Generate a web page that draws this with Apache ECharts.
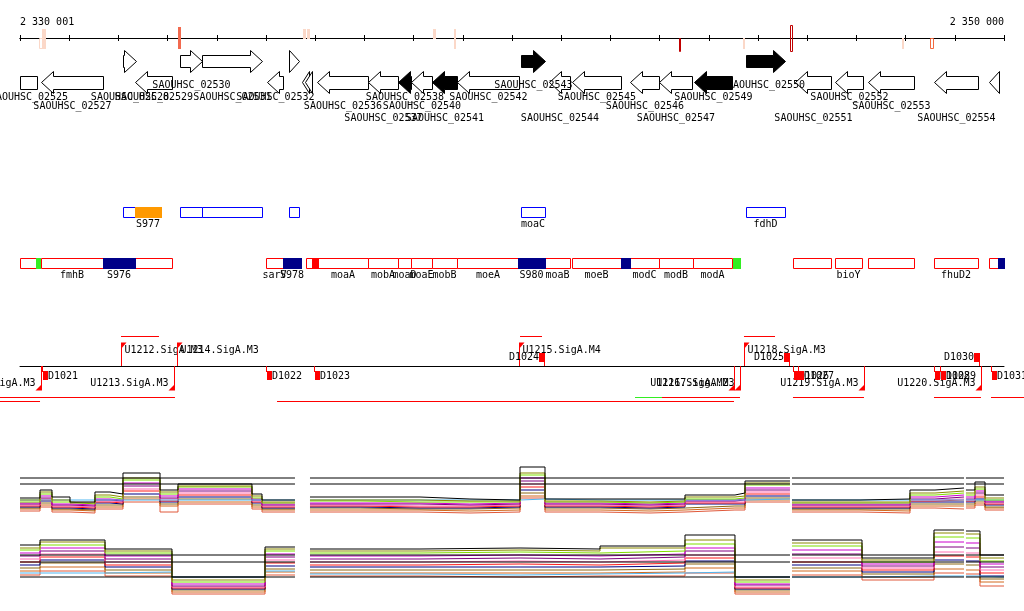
<!DOCTYPE html>
<html><head><meta charset="utf-8">
<script src="https://cdn.jsdelivr.net/npm/echarts@6/dist/echarts.min.js"></script>
<style>html,body{margin:0;padding:0;background:#fff}#c{width:1024px;height:611px}</style>
</head><body><div id="c"></div>
<script>
// ---------------- axis ----------------
const AX_MIN = 2330000, AX_MAX = 2350000, TICK = 1000;
const rulerFirstLabel = 2330001, rulerLastLabel = 2350000;

// ---------------- ruler marks: [start, end, kind] ----------------
const rulerMarks = [
  [2330396, 2330437, 'A'], [2330457, 2330498, 'B'], [2333211, 2333252, 'C'],
  [2335752, 2335793, 'D'], [2335833, 2335874, 'D'], [2338394, 2338425, 'D'],
  [2338811, 2338841, 'B'], [2343388, 2343420, 'E'], [2344695, 2344725, 'H'],
  [2345650, 2345701, 'F'], [2347917, 2347947, 'H'], [2348496, 2348557, 'G']
];

// ---------------- genes ----------------
const geneName = ['SAOUHSC_02525','SAOUHSC_02527','SAOUHSC_02528','SAOUHSC_02529','SAOUHSC_02530','SAOUHSC_02531','SAOUHSC_02532','SAOUHSC_02533','SAOUHSC_02534','SAOUHSC_02535','SAOUHSC_02536','SAOUHSC_02537','SAOUHSC_02538','SAOUHSC_02540','SAOUHSC_02541','SAOUHSC_02542','SAOUHSC_02543','SAOUHSC_02544','SAOUHSC_02545','SAOUHSC_02546','SAOUHSC_02547','SAOUHSC_02549','SAOUHSC_02550','SAOUHSC_02551','SAOUHSC_02552','SAOUHSC_02553','SAOUHSC_02554','SAOUHSC_02555'];
const geneStart = [2329600,2330427,2332093,2332337,2333252,2333699,2335020,2335467,2335732,2335793,2336037,2337073,2337683,2337947,2338374,2338882,2340183,2340752,2341219,2342398,2342988,2343699,2344756,2345752,2346565,2347236,2348577,2349695];
const geneEnd   = [2330346,2331687,2332358,2333089,2333699,2334919,2335345,2335671,2335874,2335935,2337073,2337683,2337947,2338374,2338882,2340142,2340671,2341179,2342215,2342988,2343658,2344471,2345549,2346484,2347134,2348171,2349471,2349898];
const geneStrand = ['-','-','+','-','+','+','-','+','-','-','-','-','-','-','-','-','+','-','-','-','-','-','+','-','-','-','-','-'];
const geneHighlight = [0,0,0,0,0,0,0,0,0,0,0,0,1,0,1,0,1,0,0,0,0,1,1,0,0,0,0,0];
const geneLabelLane = [1,2,1,1,0,1,1,-1,-1,-1,2,3,1,2,3,1,0,3,1,2,3,1,0,3,1,2,3,-1];

// ---------------- feature tracks: [start, end, type, label] ----------------
const featUpper = [
  [2332093,2332337,'b',''], [2332337,2332866,'o','S977'], [2333252,2333699,'b',''],
  [2333699,2334919,'b',''], [2335467,2335671,'b',''], [2340183,2340671,'b','moaC'],
  [2344756,2345549,'b','fdhD']
];
const featLower = [
  [2330000,2330325,'r',''], [2330325,2330407,'g',''], [2330427,2331687,'r','fmhB'],
  [2331687,2332337,'n','S976'], [2332337,2333089,'r',''], [2335000,2335345,'r','sarV'],
  [2335345,2335711,'n','S978'], [2335813,2335935,'r',''], [2335935,2336057,'f',''],
  [2336057,2337073,'r','moaA'], [2337073,2337683,'r','mobA'], [2337683,2337947,'r','moaD'],
  [2337947,2338374,'r','moaE'], [2338374,2338882,'r','mobB'], [2338882,2340142,'r','moeA'],
  [2340122,2340671,'n','S980'], [2340671,2341179,'r','moaB'], [2341219,2342215,'r','moeB'],
  [2342215,2342398,'n',''], [2342398,2342988,'r','modC'], [2342988,2343679,'r','modB'],
  [2343679,2344471,'r','modA'], [2344492,2344634,'g',''], [2345711,2346484,'r',''],
  [2346565,2347114,'r','bioY'], [2347236,2348171,'r',''], [2348577,2349471,'r','fhuD2'],
  [2349695,2349878,'r',''], [2349878,2350000,'n','']
];

// ---------------- promoters / terminators ----------------
const promotersPlus = [[2332053,'U1212.SigA.M3'],[2333191,'U1214.SigA.M3'],[2340142,'U1215.SigA.M4'],[2344715,'U1218.SigA.M3']];
const promotersMinus = [[2330427,'U1211.SigA.M3'],[2333130,'U1213.SigA.M3'],[2344512,'U1216.SigA.M2'],[2344634,'U1217.SigA.M3'],[2347154,'U1219.SigA.M3'],[2349532,'U1220.SigA.M3']];
const termMinus = [[2330447,'D1021'],[2335000,'D1022'],[2335976,'D1023'],[2345711,'D1026'],[2345813,'D1027'],[2348577,'D1028'],[2348699,'D1029'],[2349736,'D1031']];
const termPlus = [[2340549,'D1024'],[2345528,'D1025'],[2349390,'D1030']];
// transcripts: [start, end, lane, kind]
const transcripts = [
  [2332053,2332825,'up','r'], [2340163,2340610,'up','r'], [2344715,2345346,'up','r'],
  [2329500,2333150,'dn1','r'], [2342500,2343049,'dn1','g'], [2343049,2344634,'dn1','r'],
  [2345711,2347154,'dn1','r'], [2348577,2349532,'dn1','r'], [2349736,2350500,'dn1','r'],
  [2329500,2330407,'dn2','r'], [2335224,2344512,'dn2','r']
];

// ---------------- expression panel 1 ----------------
const p1Edges = [2330000,2330407,2330650,2331016,2331524,2331829,2332093,2332846,2333211,2334715,2334919,2335589,2335894,2336911,2338130,2339146,2340163,2340671,2341789,2342805,2343516,2344532,2344736,2345650,2345691,2347073,2348089,2348597,2349187,2349227,2349410,2349614,2350000];
const p1Black  = [4.5,6.5,4.75,3.5,6,5.5,10.75,6.5,8,5.5,4,null,4.75,4.75,4.25,4,12.25,4.25,4.25,4.25,5.25,5.75,8.75,null,4,4.25,6.5,7,null,6.5,8.5,5.25];
const p1Olive  = [4,6,4,3.25,5.25,4.75,9.5,6,7.5,5,3.5,null,4,4,3.75,3.75,10.75,3.75,3.5,3.75,4.75,5,8.25,null,3.5,3.5,5.75,6.25,null,5.75,7.25,4.5];
const p1Green  = [3.5,5.5,3.5,3,4.75,4.25,9,5.5,7.25,4.5,3.25,null,3.75,3.5,3.5,3.5,10.25,3.5,3.25,3.5,4.25,4.5,7.75,null,3.25,3.25,5.25,5.75,null,5.25,6.75,4];
const p1Magenta= [3.25,5,3,2.75,4.25,4,8.25,5,6.75,4.25,3,null,3.25,3.25,3,3.25,9.5,3.25,3,3.25,4,4.25,7,null,3,3,4.75,5.25,null,4.75,6.25,3.75];
const p1Purple = [3,4.5,2.75,2.5,4,3.75,7.5,4.5,6.25,4,2.75,null,3,3,2.75,3,8.75,3,2.75,3,3.75,4,6.5,null,2.75,2.75,4.25,4.75,null,4.25,5.75,3.5];
const p1Pink   = [2.75,4.25,2.5,2.25,3.75,3.5,6.75,4.25,5.75,3.75,2.5,null,2.75,2.5,2.5,2.75,8,2.75,2.5,2.75,3.5,3.5,6,null,2.5,2.5,4,4.25,null,4,5.25,3.25];
const p1Red    = [2.5,4,2.25,2,3.5,3.25,6.25,3.75,5.25,3.5,2.25,null,2.5,2.25,2.25,2.5,7.25,2.5,2.25,2.5,3.25,3.25,5.5,null,2.25,2.25,3.75,4,null,3.75,4.75,3];
const p1Navy   = [2.25,3.75,2,1.75,3.25,3,5.5,3.5,4.75,3.25,2,null,2.25,2,2,2.25,6.5,2.25,2,2.25,3,3,5,null,2,2,3.5,3.5,null,3.5,4.25,2.75];
const p1Brown  = [2,3.25,1.75,1.5,2.75,2.75,4.75,3,4.25,2.75,1.75,null,2,1.75,1.75,2,5.75,2,1.75,2,2.5,2.5,4.5,null,1.75,1.75,3,3,null,3,3.75,2.25];
const p1Blue   = [4,4,4,4,4,4,4,4,4,4,4,null,4,4,4,4,4.25,4,4,4,4,4,4.25,null,4,4,4,4,null,4,4,4];
const p1Orange = [1.75,2.75,1.5,1.25,2.25,2.25,4.25,2.5,3.5,2.25,1.5,null,1.5,1.5,1.25,1.5,5,1.5,1.25,1.5,2,2,4,null,1.5,1.25,2.5,2.5,null,2.5,3.25,2];
const p1Salmon = [1.25,2.25,1,0.75,1.75,1.75,3.5,1,3,1.75,1,null,1,1,0.75,1,4.5,1,0.75,1,1.5,1.5,3.5,null,1,0.75,2,1.75,null,2,2.75,1.5];
const p1Thresholds = [9.5, 8];

// ---------------- expression panel 2 ----------------
const p2Edges = [2330000,2330407,2331728,2333089,2334980,2335589,2335894,2338130,2340163,2341789,2343516,2344532,2345650,2345691,2347114,2348577,2349187,2349227,2349512,2350000];
const p2Black  = [13.75,15,12.75,5.75,13.25,null,12.75,13,12.75,13.5,16.25,5.75,null,15,10.5,17.5,null,17.25,11.25];
const p2Olive  = [13,14.5,12.25,5,12.75,null,12.25,12.5,12.25,13,15,5,null,14.25,10,16.75,null,16.5,10.5];
const p2Green  = [12.5,13.75,11.75,4.5,12.25,null,11.75,12,11.75,12.25,14,4.5,null,13.5,9.5,15.75,null,15.5,9.75];
const p2Magenta= [11.75,13,11,4,11.5,null,11,11.25,11,11.5,13,4,null,12.5,9,14.5,null,14.25,9];
const p2Purple = [11,12.25,10.25,3.5,10.75,null,10.25,10.5,10.25,10.75,12.25,3.75,null,11.5,8.5,13.25,null,13,8.25];
const p2Pink   = [10.25,11.5,9.5,3.25,10,null,9.5,9.75,9.5,10,11.25,3.25,null,10.5,8,12,null,11.75,7.5];
const p2Red    = [9.5,10.75,8.75,3,9.25,null,8.75,9,8.75,9.25,10.5,3,null,9.5,7.5,11,null,10.75,6.75];
const p2Navy   = [8.75,10,8.25,2.75,8.5,null,8.25,8.25,8.25,8.5,9.75,2.75,null,8.75,7,10,null,9.75,6];
const p2Brown  = [8,9.25,7.5,2.5,7.75,null,7.5,7.5,7.5,7.75,9,2.5,null,8,6.5,9,null,8.75,5.25];
const p2Blue   = [6.75,6.75,7,5.75,7.25,null,6.5,6.25,6.5,6.75,7,5.75,null,5.75,6,6,null,6,5.75];
const p2Orange = [7.25,8.25,6.75,2,7,null,6.75,6.75,6.75,7,8,2,null,7.25,5.75,7.75,null,7.5,4.5];
const p2Salmon = [6.25,7.25,6,1.5,6.25,null,6,5.75,6,6,6.75,1.5,null,6.25,5,6.75,null,6.5,3.5];
const p2Thresholds = [11.25, 9.5, 5.75];

// ---------------- layout & styles ----------------
const FONT = '10px "DejaVu Sans Mono"';
const LY = {
  fwd: {ht: 50.5, st: 55.5, sb: 67.5, hb: 72.5},
  rev: {ht: 71.5, st: 76.5, sb: 89.5, hb: 93.5},
  head: 12,
  labelY: [85, 97, 106, 118],
  featUpper: {top: 207.5, h: 10, label: 224},
  featLower: {top: 258.5, h: 10, label: 275},
  promoY: 366,
  laneY: {up: 336.5, dn1: 397.5, dn2: 401.5}
};
const PEACH = '#fbd8c8';
const markStyle = {
  A: {y0: 38, y1: 49, fill: null, stroke: PEACH},
  B: {y0: 29, y1: 49, fill: PEACH, stroke: null},
  C: {y0: 27, y1: 49, fill: '#f26a4f', stroke: null},
  D: {y0: 29, y1: 39, fill: PEACH, stroke: null},
  E: {y0: 38, y1: 52, fill: null, stroke: '#c00000'},
  F: {y0: 25, y1: 52, fill: null, stroke: '#c00000'},
  G: {y0: 38, y1: 49, fill: null, stroke: '#f26a40'},
  H: {y0: 38, y1: 49, fill: PEACH, stroke: null}
};
const featStyle = {
  b: {fill: '#fff', stroke: '#0000ff', z: 1},
  r: {fill: '#fff', stroke: '#ff0000', z: 1},
  o: {fill: '#ff9900', stroke: null, z: 2},
  n: {fill: '#000088', stroke: null, z: 2},
  g: {fill: '#33ee22', stroke: null, z: 2},
  f: {fill: '#ff0000', stroke: null, z: 2}
};
const RED = '#ff0000';
const laneColor = {r: '#ff0000', g: '#33ee22'};

const snap = v => Math.round(v) + 0.5;
function xc(api, v) { return api.coord([v, 0])[0]; }

// ---------- renderers ----------
function renderGene(params, api) {
  const i = params.dataIndex, cs = params.coordSys;
  let x0 = xc(api, api.value(0)), x1 = xc(api, api.value(1));
  let cut = false;
  if (x0 < cs.x) { x0 = cs.x; cut = true; }
  x0 = snap(x0); x1 = snap(x1);
  const fwd = geneStrand[i] === '+';
  const r = fwd ? LY.fwd : LY.rev;
  const mid = (r.ht + r.hb) / 2;
  const len = x1 - x0;
  let head = Math.min(LY.head, len);
  if (!fwd && cut) head = 0;
  let pts;
  if (fwd) {
    const hx = x1 - head;
    pts = (len - head < 1) ? [[x0, r.ht], [x1, mid], [x0, r.hb]]
      : [[x0, r.st], [hx, r.st], [hx, r.ht], [x1, mid], [hx, r.hb], [hx, r.sb], [x0, r.sb]];
  } else {
    const hx = x0 + head;
    if (head === 0) pts = [[x0, r.st], [x1, r.st], [x1, r.sb], [x0, r.sb]];
    else if (len - head < 1) pts = [[x1, r.ht], [x0, mid], [x1, r.hb]];
    else pts = [[x1, r.st], [hx, r.st], [hx, r.ht], [x0, mid], [hx, r.hb], [hx, r.sb], [x1, r.sb]];
  }
  const children = [{type: 'polygon', shape: {points: pts},
    style: {fill: geneHighlight[i] ? '#000' : '#fff', stroke: '#000', lineWidth: 1}}];
  const lane = geneLabelLane[i];
  if (lane >= 0) children.push({type: 'text', z2: 5, style: {text: geneName[i], x: (x0 + x1) / 2, y: LY.labelY[lane],
    fill: '#000', font: FONT, align: 'center', verticalAlign: 'middle'}});
  return {type: 'group', children};
}

function makeFeatRenderer(list, lay) {
  return function (params, api) {
    const f = list[params.dataIndex];
    const st = featStyle[f[2]];
    const x0 = Math.round(xc(api, f[0])), x1 = Math.round(xc(api, f[1]));
    const children = [];
    if (st.stroke) children.push({type: 'rect', z2: st.z, shape: {x: x0 + 0.5, y: lay.top, width: x1 - x0, height: lay.h},
      style: {fill: st.fill, stroke: st.stroke, lineWidth: 1}});
    else children.push({type: 'rect', z2: st.z, shape: {x: x0, y: lay.top - 0.5, width: x1 - x0 + 1, height: lay.h + 1},
      style: {fill: st.fill}});
    if (f[3]) children.push({type: 'text', z2: 5, style: {text: f[3], x: (x0 + x1) / 2, y: lay.label,
      fill: '#000', font: FONT, align: 'center', verticalAlign: 'middle'}});
    return {type: 'group', children};
  };
}

function renderRulerMark(params, api) {
  const m = rulerMarks[params.dataIndex];
  const s = markStyle[m[2]];
  const x0 = Math.round(xc(api, m[0])), x1 = Math.max(Math.round(xc(api, m[1])), x0 + 1);
  if (s.fill) return {type: 'rect', shape: {x: x0, y: s.y0, width: x1 - x0 + 1, height: s.y1 - s.y0}, style: {fill: s.fill}};
  return {type: 'rect', shape: {x: x0 + 0.5, y: s.y0 + 0.5, width: x1 - x0, height: s.y1 - s.y0 - 1}, style: {fill: null, stroke: s.stroke, lineWidth: 1}};
}

function renderPromPlus(params, api) {
  const p = promotersPlus[params.dataIndex];
  const x = snap(xc(api, p[0])), y = LY.promoY;
  return {type: 'group', children: [
    {type: 'line', shape: {x1: x, y1: y, x2: x, y2: y - 23}, style: {stroke: RED, lineWidth: 1}},
    {type: 'polygon', shape: {points: [[x - 0.5, y - 23.5], [x + 5, y - 23.5], [x - 0.5, y - 17]]}, style: {fill: RED}},
    {type: 'text', style: {text: p[1], x: x + 3, y: 350, fill: '#000', font: FONT, align: 'left', verticalAlign: 'middle'}}
  ]};
}
function renderPromMinus(params, api) {
  const p = promotersMinus[params.dataIndex];
  const x = snap(xc(api, p[0])), y = LY.promoY;
  return {type: 'group', children: [
    {type: 'line', shape: {x1: x, y1: y, x2: x, y2: y + 24}, style: {stroke: RED, lineWidth: 1}},
    {type: 'polygon', shape: {points: [[x + 0.5, y + 24.5], [x - 6, y + 24.5], [x + 0.5, y + 18]]}, style: {fill: RED}},
    {type: 'text', style: {text: p[1], x: x - 6, y: 383, fill: '#000', font: FONT, align: 'right', verticalAlign: 'middle'}}
  ]};
}
function renderTermMinus(params, api) {
  const p = termMinus[params.dataIndex];
  const x = Math.round(xc(api, p[0])), y = LY.promoY;
  return {type: 'group', children: [
    {type: 'line', shape: {x1: x + 0.5, y1: y, x2: x + 0.5, y2: y + 6}, style: {stroke: RED, lineWidth: 1}},
    {type: 'rect', shape: {x: x + 1, y: y + 5, width: 5, height: 9}, style: {fill: RED}},
    {type: 'text', style: {text: p[1], x: x + 6, y: 376, fill: '#000', font: FONT, align: 'left', verticalAlign: 'middle'}}
  ]};
}
function renderTermPlus(params, api) {
  const p = termPlus[params.dataIndex];
  const x = Math.round(xc(api, p[0])), y = LY.promoY;
  return {type: 'group', children: [
    {type: 'rect', shape: {x: x, y: y - 13, width: 5, height: 9}, style: {fill: RED}},
    {type: 'line', shape: {x1: x + 5.5, y1: y - 13, x2: x + 5.5, y2: y}, style: {stroke: RED, lineWidth: 1}},
    {type: 'text', style: {text: p[1], x: x, y: 357, fill: '#000', font: FONT, align: 'right', verticalAlign: 'middle'}}
  ]};
}
function renderTranscript(params, api) {
  const t = transcripts[params.dataIndex];
  const x0 = xc(api, t[0]), x1 = xc(api, t[1]);
  const y = LY.laneY[t[2]];
  return {type: 'line', shape: {x1: x0, y1: y, x2: x1, y2: y}, style: {stroke: laneColor[t[3]], lineWidth: 1}};
}

function customSeries(data, render, extra) {
  return Object.assign({type: 'custom', xAxisIndex: 0, yAxisIndex: 0, clip: false, silent: true,
    renderItem: render, data: data, encode: {x: [0, 1]}}, extra || {});
}

// ---------- expression helpers ----------
function stepData(edges, vals) {
  const d = [];
  for (let i = 0; i < vals.length; i++) {
    if (vals[i] == null) { d.push([edges[i], '-']); continue; }
    d.push([edges[i], vals[i]]); d.push([edges[i + 1], vals[i]]);
  }
  return d;
}
function lineSeries(idx, edges, vals, color, w) {
  return {type: 'line', xAxisIndex: idx, yAxisIndex: idx, data: stepData(edges, vals), showSymbol: false, symbol: 'none',
    silent: true, connectNulls: false, lineStyle: {color: color, width: w || 1}, itemStyle: {color: color}};
}
const COLORS = {salmon:'#e0583a', orange:'#d2691e', brown:'#8b6914', navy:'#000080', red:'#ff1a1a', pink:'#ff6eb4',
  purple:'#800080', magenta:'#cc00cc', blue:'#4fb6f0', green:'#7fe000', olive:'#8b8b00', black:'#000000'};
const p1Sets = [[p1Salmon,'salmon'],[p1Orange,'orange'],[p1Brown,'brown'],[p1Navy,'navy'],[p1Red,'red'],[p1Pink,'pink'],[p1Purple,'purple'],[p1Magenta,'magenta'],[p1Blue,'blue'],[p1Green,'green'],[p1Olive,'olive'],[p1Black,'black']];
const p2Sets = [[p2Salmon,'salmon'],[p2Orange,'orange'],[p2Brown,'brown'],[p2Navy,'navy'],[p2Red,'red'],[p2Pink,'pink'],[p2Purple,'purple'],[p2Magenta,'magenta'],[p2Blue,'blue'],[p2Green,'green'],[p2Olive,'olive'],[p2Black,'black']];

const series = [];
series.push(customSeries(rulerMarks.map(m => [m[0], m[1]]), renderRulerMark));
series.push(customSeries(geneStart.map((s, i) => [s, geneEnd[i]]), renderGene));
series.push(customSeries(featUpper.map(f => [f[0], f[1]]), makeFeatRenderer(featUpper, LY.featUpper)));
series.push(customSeries(featLower.map(f => [f[0], f[1]]), makeFeatRenderer(featLower, LY.featLower)));
series.push(customSeries(transcripts.map(t => [t[0], t[1]]), renderTranscript));
series.push(customSeries(promotersPlus.map(p => [p[0], p[0]]), renderPromPlus));
series.push(customSeries(promotersMinus.map(p => [p[0], p[0]]), renderPromMinus));
series.push(customSeries(termMinus.map(p => [p[0], p[0]]), renderTermMinus));
series.push(customSeries(termPlus.map(p => [p[0], p[0]]), renderTermPlus));
p1Sets.forEach(s => series.push(lineSeries(4, p1Edges, s[0], COLORS[s[1]])));
p1Thresholds.forEach(t => series.push(Object.assign(lineSeries(4, p1Edges, p1Black.map(v => v == null ? null : t), '#000'), {z: 5})));
p2Sets.forEach(s => series.push(lineSeries(5, p2Edges, s[0], COLORS[s[1]])));
p2Thresholds.forEach(t => series.push(Object.assign(lineSeries(5, p2Edges, p2Black.map(v => v == null ? null : t), '#000'), {z: 5})));

const fmtBp = v => String(v).replace(/\B(?=(\d{3})+(?!\d))/g, ' ');
const baseX = {type: 'value', min: AX_MIN, max: AX_MAX, interval: TICK, show: false};
const hiddenY = (min, max, inv) => ({type: 'value', min, max, inverse: !!inv, show: false});

const option = {
  animation: false,
  backgroundColor: '#fff',
  grid: [
    {left: 20, right: 20, top: 0, height: 611},
    {left: 20, right: 20, top: 38, height: 10},
    {left: 20, right: 20, top: 38, height: 10},
    {left: 20, right: 20, top: 366, height: 10},
    {left: 20, right: 20, top: 460, height: 56},
    {left: 20, right: 20, top: 524, height: 76}
  ],
  xAxis: [
    Object.assign({}, baseX, {gridIndex: 0}),
    {type: 'value', gridIndex: 1, min: AX_MIN, max: AX_MAX, interval: TICK, position: 'top',
      axisLine: {show: true, onZero: false, lineStyle: {color: '#000', width: 1}},
      axisTick: {show: true, inside: false, length: 3, lineStyle: {color: '#000'}},
      splitLine: {show: false},
      axisLabel: {show: true, interval: 0, margin: 11, color: '#000', fontFamily: 'DejaVu Sans Mono', fontSize: 10,
        showMinLabel: true, showMaxLabel: true, alignMinLabel: 'left', alignMaxLabel: 'right',
        formatter: v => v === AX_MIN ? fmtBp(rulerFirstLabel) : (v === AX_MAX ? fmtBp(rulerLastLabel) : '')}},
    {type: 'value', gridIndex: 2, min: AX_MIN, max: AX_MAX, interval: TICK, position: 'top',
      axisLine: {show: true, onZero: false, lineStyle: {color: '#000', width: 1}},
      axisTick: {show: true, inside: true, length: 3, lineStyle: {color: '#000'}},
      splitLine: {show: false}, axisLabel: {show: false}},
    {type: 'value', gridIndex: 3, min: AX_MIN, max: AX_MAX, position: 'top',
      axisLine: {show: true, onZero: false, lineStyle: {color: '#000', width: 1}},
      axisTick: {show: false}, splitLine: {show: false}, axisLabel: {show: false}},
    Object.assign({}, baseX, {gridIndex: 4}),
    Object.assign({}, baseX, {gridIndex: 5})
  ],
  yAxis: [
    Object.assign(hiddenY(0, 611, true), {gridIndex: 0}),
    Object.assign(hiddenY(0, 1), {gridIndex: 1}),
    Object.assign(hiddenY(0, 1), {gridIndex: 2}),
    Object.assign(hiddenY(0, 1), {gridIndex: 3}),
    Object.assign(hiddenY(0, 14), {gridIndex: 4}),
    Object.assign(hiddenY(0, 19), {gridIndex: 5})
  ],
  series: series
};
const chart = echarts.init(document.getElementById('c'));
chart.setOption(option);
</script></body></html>
